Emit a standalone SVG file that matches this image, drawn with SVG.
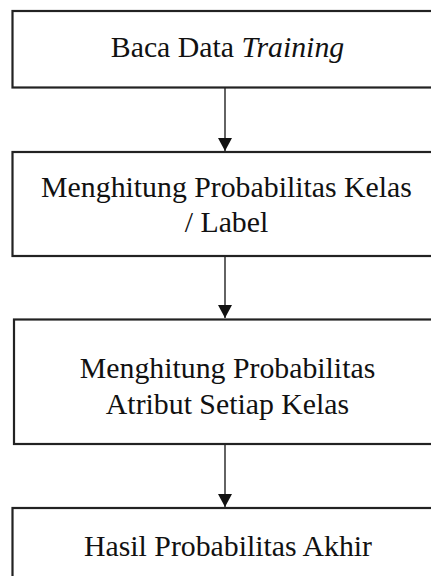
<svg xmlns="http://www.w3.org/2000/svg" width="431" height="576" viewBox="0 0 431 576">
  <defs>
    <marker id="arrow" markerUnits="userSpaceOnUse" markerWidth="14" markerHeight="15" refX="13" refY="7" orient="auto">
      <path d="M0,0 L13,7 L0,14 Z" fill="#111"/>
    </marker>
    <style>
      .box { fill: #ffffff; stroke: #222222; stroke-width: 2.2; }
      .lbl { font-family: "Liberation Serif", "Times New Roman", serif; font-size: 29.8px; fill: #111111; text-anchor: middle; }
      .conn { stroke: #222222; stroke-width: 1.4; fill: none; }
    </style>
  </defs>
  <rect x="0" y="0" width="431" height="576" fill="#ffffff"/>

  <g id="connectors">
    <line class="conn" x1="225" y1="88" x2="225" y2="151" marker-end="url(#arrow)"/>
    <line class="conn" x1="225" y1="257" x2="225" y2="318" marker-end="url(#arrow)"/>
    <line class="conn" x1="225" y1="445" x2="225" y2="507" marker-end="url(#arrow)"/>
  </g>

  <g id="node-baca-data">
    <rect class="box" x="12.5" y="11" width="426" height="76.5"/>
    <text class="lbl" x="227.5" y="57">Baca Data <tspan font-style="italic">Training</tspan></text>
  </g>

  <g id="node-prob-kelas">
    <rect class="box" x="12.5" y="152" width="426" height="104"/>
    <text class="lbl" x="226.5" y="197">Menghitung Probabilitas Kelas</text>
    <text class="lbl" x="226.5" y="232">/ Label</text>
  </g>

  <g id="node-prob-atribut">
    <rect class="box" x="14" y="319.5" width="423" height="124.5"/>
    <text class="lbl" x="227.5" y="378">Menghitung Probabilitas</text>
    <text class="lbl" x="227.5" y="414">Atribut Setiap Kelas</text>
  </g>

  <g id="node-hasil">
    <rect class="box" x="12.5" y="508" width="426" height="100"/>
    <text class="lbl" x="228" y="556">Hasil Probabilitas Akhir</text>
  </g>
</svg>
